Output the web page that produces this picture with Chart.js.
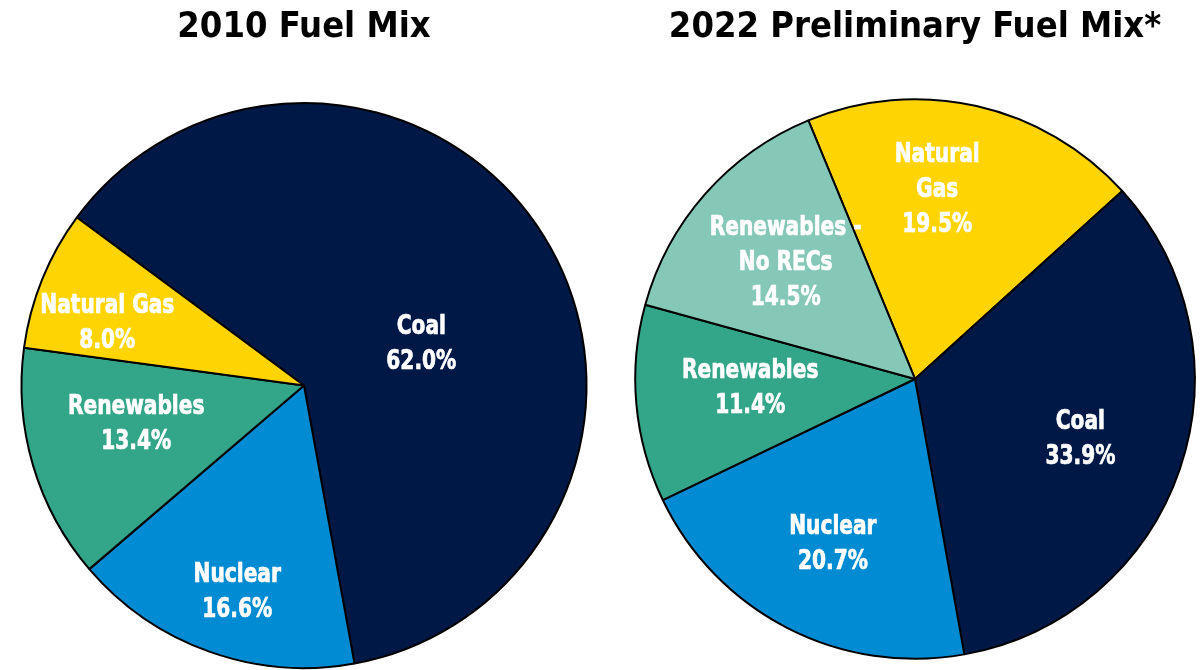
<!DOCTYPE html>
<html>
<head>
<meta charset="utf-8">
<script src="https://cdn.jsdelivr.net/npm/chart.js@4.4.0/dist/chart.umd.min.js"></script>
<style>
  html, body { margin: 0; padding: 0; background: #fff; }
  #wrap { position: relative; width: 1203px; height: 670px; overflow: hidden; }
  .box { position: absolute; top: 0; height: 670px; }
</style>
</head>
<body>
<div id="wrap">
  <div class="box" style="left:0;width:608px"><canvas id="pie2010"></canvas></div>
  <div class="box" style="left:621px;width:588px"><canvas id="pie2022"></canvas></div>
</div>
<script>
// values (percent of generation)
const fuels2010 = ['Coal', 'Nuclear', 'Renewables', 'Natural Gas'];
const share2010 = [62.0, 16.6, 13.4, 8.0];
const text2010 = [['Coal'], ['Nuclear'], ['Renewables'], ['Natural Gas']];

const fuels2022 = ['Natural Gas', 'Coal', 'Nuclear', 'Renewables', 'Renewables - No RECs'];
const share2022 = [19.5, 33.9, 20.7, 11.4, 14.5];
const text2022 = [['Natural', 'Gas'], ['Coal'], ['Nuclear'], ['Renewables'], ['Renewables -', 'No RECs']];

const fuelColors = {
  'Coal': '#001846',
  'Nuclear': '#018bd2',
  'Renewables': '#33a68a',
  'Natural Gas': '#ffd400',
  'Renewables - No RECs': '#86c8b8'
};

const FONT = "'Liberation Sans Narrow', 'DejaVu Sans Condensed', 'Roboto', sans-serif";

// where the text sits inside each slice: fraction of radius, and a small angle nudge (deg)
const place2010 = { r: [0.44, 0.77, 0.61, 0.73], shift: [12.6, -1.7, 3.3, -4.6] };
const place2022 = { r: [0.68, 0.63, 0.66, 0.59, 0.62], shift: [-6, 1.4, -0.7, 1.8, 0.3] };

const sliceLabels = {
  id: 'sliceLabels',
  afterDatasetsDraw(chart, args, opts) {
    const ctx = chart.ctx;
    const meta = chart.getDatasetMeta(0);
    const vals = chart.data.datasets[0].data;
    const sx = 0.83; // the original face is narrower than what we have
    const lh = 35;
    meta.data.forEach((arc, i) => {
      const p = arc.getProps(['x', 'y', 'startAngle', 'endAngle', 'outerRadius'], true);
      const mid = (p.startAngle + p.endAngle) / 2 + opts.shift[i] * Math.PI / 180;
      const cx = p.x + Math.cos(mid) * p.outerRadius * opts.r[i];
      const cy = p.y + Math.sin(mid) * p.outerRadius * opts.r[i];
      const lines = opts.text[i].concat([vals[i].toFixed(1) + '%']);
      const y0 = cy - (lines.length - 1) * lh / 2;
      ctx.save();
      ctx.translate(cx, 0);
      ctx.scale(sx, 1);
      ctx.fillStyle = '#fff';
      ctx.strokeStyle = '#fff';
      ctx.lineWidth = 0.7;
      ctx.font = 'bold 27px ' + FONT;
      ctx.textAlign = 'center';
      ctx.textBaseline = 'middle';
      lines.forEach((t, k) => {
        ctx.fillText(t, 0, y0 + k * lh);
        ctx.strokeText(t, 0, y0 + k * lh);
      });
      ctx.restore();
    });
  }
};

function makePie(id, fuels, shares, text, place, rotation, title, pad) {
  new Chart(document.getElementById(id), {
    type: 'pie',
    data: {
      labels: fuels,
      datasets: [{
        data: shares,
        backgroundColor: fuels.map(f => fuelColors[f]),
        borderColor: '#000',
        borderWidth: 2
      }]
    },
    options: {
      responsive: true,
      maintainAspectRatio: false,
      animation: false,
      rotation: rotation,
      layout: { padding: { bottom: pad.bottom } },
      plugins: {
        legend: { display: false },
        tooltip: { enabled: false },
        title: {
          display: true,
          text: title,
          color: '#000',
          font: { family: FONT, size: 36, weight: 'bold', lineHeight: 1.2 },
          padding: { top: 6, bottom: pad.titleBottom }
        },
        sliceLabels: { text: text, r: place.r, shift: place.shift }
      }
    },
    plugins: [sliceLabels]
  });
}

makePie('pie2010', fuels2010, share2010, text2010, place2010, -53.5, '2010 Fuel Mix', { bottom: 1, titleBottom: 52.8 });
makePie('pie2022', fuels2022, share2022, text2022, place2022, -22.4, '2022 Preliminary Fuel Mix*', { bottom: 10.25, titleBottom: 49 });
</script>
</body>
</html>
